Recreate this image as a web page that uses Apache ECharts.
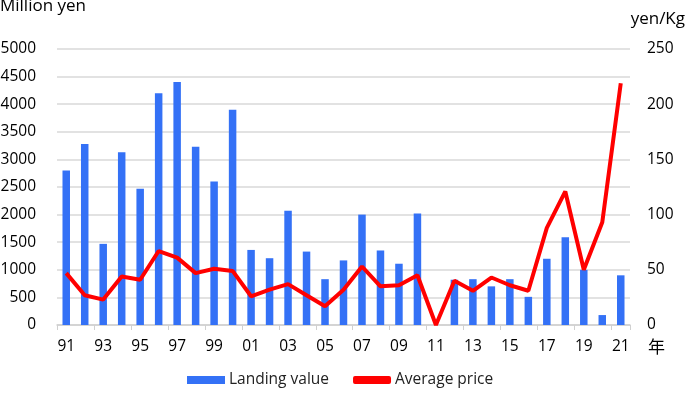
<!DOCTYPE html>
<html>
<head>
<meta charset="utf-8">
<script src="https://cdn.jsdelivr.net/npm/echarts@6/dist/echarts.min.js"></script>
<style>
  html, body { margin: 0; padding: 0; background: #fff; }
  #chart { width: 685px; height: 393px; }
</style>
</head>
<body>
<div id="chart"></div>
<script>
// Years 1991-2021, labelled by two-digit year
const years = ['91','92','93','94','95','96','97','98','99','00',
               '01','02','03','04','05','06','07','08','09','10',
               '11','12','13','14','15','16','17','18','19','20','21'];

// Landing value (million yen), left axis
const landingValue = [2800, 3280, 1470, 3130, 2470, 4200, 4400, 3230, 2600, 3900,
                      1360, 1210, 2070, 1330, 830, 1170, 2000, 1350, 1110, 2020,
                      0, 820, 830, 700, 830, 510, 1200, 1590, 1000, 180, 900];

// Average price (yen/Kg), right axis
const averagePrice = [47, 27, 23, 44, 41, 67, 61, 47, 51, 49,
                      26, 32, 37, 27, 17, 32, 53, 35, 36, 45,
                      0, 40, 31, 43, 36, 31, 88, 121, 50, 93, 219];

const FONT = 'Open Sans';

const chart = echarts.init(document.getElementById('chart'));

chart.setOption({
    animation: false,
    textStyle: { fontFamily: FONT, color: '#000' },
    grid: { left: 57, right: 55, top: 49, bottom: 68, containLabel: false, outerBoundsMode: 'none' },
    graphic: [
        { type: 'text', left: 0, top: -2,
          style: { text: 'Million yen', font: '17px "Open Sans"', fill: '#000' } },
        { type: 'text', right: 0, top: 11,
          style: { text: 'yen/Kg', font: '17px "Open Sans"', fill: '#000' } }
    ],
    legend: {
        bottom: 0,
        left: 182,
        itemGap: 24,
        itemWidth: 38,
        itemHeight: 8,
        textStyle: { fontFamily: FONT, fontSize: 15.5, color: '#222', padding: [0, 0, 0, -1] },
        data: [
            { name: 'Landing value', icon: 'rect' },
            { name: 'Average price', icon: 'roundRect', itemStyle: { color: '#ff0000' } }
        ]
    },
    xAxis: {
        type: 'category',
        data: years,
        boundaryGap: true,
        name: '年',
        nameLocation: 'end',
        nameGap: 18,
        nameTextStyle: { fontFamily: 'Noto Sans CJK JP', fontSize: 17, color: '#000', verticalAlign: 'top', padding: [13, 0, 0, 0] },
        axisLine: { lineStyle: { color: '#d0d0d0', width: 1.5 } },
        axisTick: { show: true, length: 5, lineStyle: { color: '#d0d0d0' } },
        axisLabel: { interval: 1, fontSize: 15.5, color: '#000', margin: 14, fontFamily: FONT }
    },
    yAxis: [
        {
            type: 'value',
            min: 0, max: 5000, interval: 500,
            axisLine: { show: false },
            axisTick: { show: false },
            axisLabel: { fontSize: 15.5, color: '#000', margin: 21, fontFamily: FONT,
                         formatter: v => String(v) },
            splitLine: { lineStyle: { color: '#d9d9d9', width: 1.5 } }
        },
        {
            type: 'value',
            min: 0, max: 250, interval: 50,
            axisLine: { show: false },
            axisTick: { show: false },
            axisLabel: { fontSize: 15.5, color: '#000', margin: 17, fontFamily: FONT },
            splitLine: { show: false }
        }
    ],
    series: [
        {
            name: 'Landing value',
            type: 'bar',
            data: landingValue,
            barWidth: 7.5,
            itemStyle: { color: '#3471f6' }
        },
        {
            name: 'Average price',
            type: 'line',
            yAxisIndex: 1,
            data: averagePrice,
            symbol: 'none',
            lineStyle: { color: '#ff0000', width: 4 },
            itemStyle: { color: '#ff0000' }
        }
    ]
});
</script>
</body>
</html>
